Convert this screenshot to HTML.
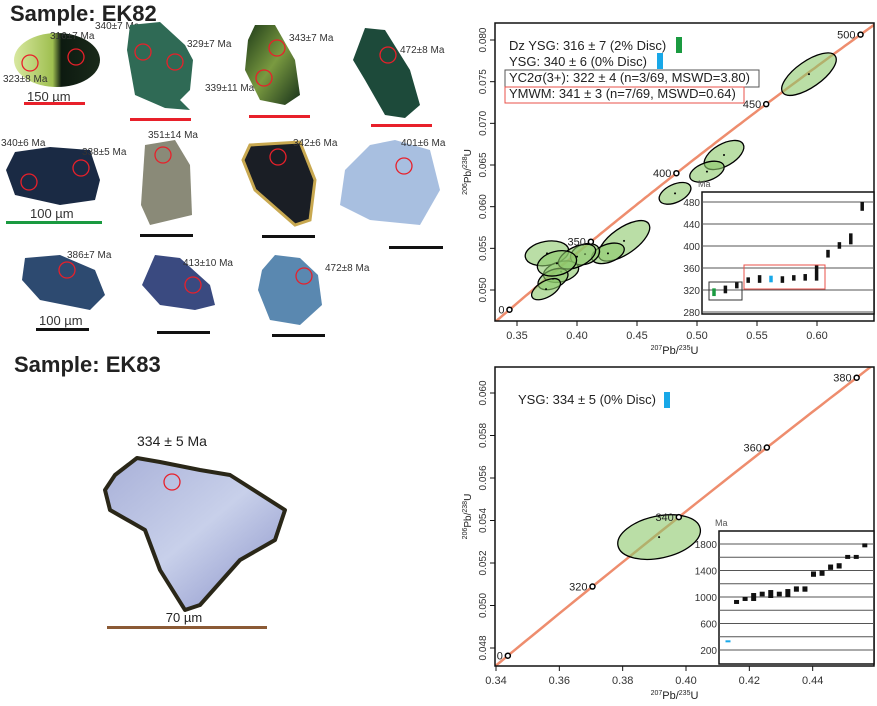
<!DOCTYPE html>
<html><head><meta charset="utf-8"><style>
body{margin:0;background:#fff}
svg{display:block;font-family:"Liberation Sans",Arial,sans-serif}
</style></head><body>
<svg id="fig" width="877" height="706" viewBox="0 0 877 706" xmlns="http://www.w3.org/2000/svg">
<defs>
<linearGradient id="g1" x1="0" x2="1"><stop offset="0" stop-color="#d8e8a0"/><stop offset="0.45" stop-color="#9fbf50"/><stop offset="0.55" stop-color="#0d1a10"/><stop offset="1" stop-color="#1a2a1a"/></linearGradient>
<linearGradient id="g3" x1="0" x2="1" y1="0" y2="1"><stop offset="0" stop-color="#1d3a18"/><stop offset="0.5" stop-color="#7a9a40"/><stop offset="1" stop-color="#16301a"/></linearGradient>
<linearGradient id="g83" x1="0" x2="1" y1="0" y2="1"><stop offset="0" stop-color="#a8b0d8"/><stop offset="0.5" stop-color="#c8d0ea"/><stop offset="1" stop-color="#8890c8"/></linearGradient>
</defs>
<g>
<text x="10" y="21" font-size="22" font-weight="bold" fill="#222">Sample: EK82</text>
<g font-size="10" fill="#333">
<ellipse cx="57" cy="60" rx="43" ry="27" fill="url(#g1)"/>
<text x="50" y="39">316±7 Ma</text>
<text x="95" y="29">340±7 Ma</text>
<text x="3" y="82">323±8 Ma</text>
<text x="27" y="101" font-size="13">150 µm</text>
<rect x="24" y="102" width="61" height="3" fill="#e8202a"/>
<polygon points="130,25 160,22 185,45 193,60 190,90 180,100 190,110 165,108 135,95 127,50" fill="#2f6a55"/>
<text x="187" y="47">329±7 Ma</text>
<rect x="130" y="118" width="61" height="3" fill="#e8202a"/>
<polygon points="255,25 275,25 295,60 300,95 285,105 260,100 245,70 248,40" fill="url(#g3)"/>
<text x="289" y="41">343±7 Ma</text>
<text x="205" y="91">339±11 Ma</text>
<rect x="249" y="115" width="61" height="3" fill="#e8202a"/>
<polygon points="365,28 385,30 410,70 420,105 405,118 385,115 365,80 353,60" fill="#1d4a3a"/>
<text x="400" y="53">472±8 Ma</text>
<rect x="371" y="124" width="61" height="3" fill="#e8202a"/>
<polygon points="15,152 50,147 90,150 100,180 95,200 60,205 15,195 6,170" fill="#1a2a44"/>
<text x="1" y="146">340±6 Ma</text>
<text x="82" y="155">338±5 Ma</text>
<text x="30" y="218" font-size="13">100 µm</text>
<rect x="6" y="221" width="96" height="3" fill="#1a9a40"/>
<polygon points="145,145 175,140 190,165 192,215 150,225 141,205" fill="#8a8a78"/>
<text x="148" y="138">351±14 Ma</text>
<rect x="140" y="234" width="53" height="3" fill="#111"/>
<polygon points="250,145 300,142 315,180 310,220 295,225 255,190 243,160" fill="#1a1e25" stroke="#c8a850" stroke-width="3"/>
<text x="293" y="146">342±6 Ma</text>
<rect x="262" y="235" width="53" height="3" fill="#111"/>
<polygon points="370,145 395,140 430,150 440,190 420,225 370,220 340,205 345,170" fill="#a8bfe0"/>
<text x="401" y="146">401±6 Ma</text>
<rect x="389" y="246" width="54" height="3" fill="#111"/>
<polygon points="25,258 60,255 95,270 105,295 90,310 40,300 22,280" fill="#2d4a70"/>
<text x="67" y="258">386±7 Ma</text>
<text x="39" y="325" font-size="13">100 µm</text>
<rect x="36" y="328" width="53" height="3" fill="#111"/>
<polygon points="155,255 180,258 210,285 215,305 195,310 160,305 142,285" fill="#3a4a80"/>
<text x="183" y="266">413±10 Ma</text>
<rect x="157" y="331" width="53" height="3" fill="#111"/>
<polygon points="275,255 300,258 318,275 322,305 300,325 270,320 258,290 262,270" fill="#5a88b0"/>
<text x="325" y="271">472±8 Ma</text>
<rect x="272" y="334" width="53" height="3" fill="#111"/>
<g fill="none" stroke="#e8202a" stroke-width="1.3">
<circle cx="30" cy="63" r="8"/><circle cx="76" cy="57" r="8"/><circle cx="143" cy="52" r="8"/><circle cx="175" cy="62" r="8"/>
<circle cx="277" cy="48" r="8"/><circle cx="264" cy="78" r="8"/><circle cx="388" cy="55" r="8"/><circle cx="29" cy="182" r="8"/>
<circle cx="81" cy="168" r="8"/><circle cx="163" cy="155" r="8"/><circle cx="278" cy="157" r="8"/><circle cx="404" cy="166" r="8"/>
<circle cx="67" cy="270" r="8"/><circle cx="193" cy="285" r="8"/><circle cx="304" cy="276" r="8"/>
</g>
</g>
</g>
<g>
<text x="14" y="372" font-size="22" font-weight="bold" fill="#222">Sample: EK83</text>
<text x="172" y="446" font-size="14" text-anchor="middle" fill="#222">334 ± 5 Ma</text>
<polygon points="137,458 160,462 200,470 230,475 285,510 275,540 240,560 200,605 185,610 160,570 145,530 110,510 105,490 115,475" fill="url(#g83)" stroke="#2a2718" stroke-width="4" stroke-linejoin="round"/>
<circle cx="172" cy="482" r="8" fill="none" stroke="#e8202a" stroke-width="1.3"/>
<text x="184" y="622" font-size="13" text-anchor="middle" fill="#222">70 µm</text>
<rect x="107" y="626" width="160" height="3" fill="#8b5a35"/>
</g>
<g id="c1"></g>
<g id="c2"></g>
</svg>
<script>
// ---- data ----
var ek82X = [0.5933,0.5225,0.5083,0.4817,0.4392,0.4258,0.4067,0.375,0.3867,0.38,0.3742,0.40,0.3833];
var ek82Y = [0.0759,0.0662,0.0642,0.0616,0.0559,0.0544,0.0543,0.0544,0.0522,0.0513,0.0501,0.054,0.0532];
var ek82Rx = [32,22,18,17,30,17,15,22,18,16,16,20,20];
var ek82Ry = [13,11,9,9,13,9,10,12,10,9,8,10,12];
var ek82Rot = [-35,-30,-20,-25,-35,-20,-20,-10,-15,-25,-30,-25,-15];
var ek82Ages = [316,321,329,338,340,340,339,342,343,351,386,401,413,472];
var ek82Errs = [7,7,6,5,7,6,6,5,6,14,7,6,10,8];
var ek82Colors = ['#1a9a40','k','k','k','k','#18a8e8','k','k','k','k','k','k','k','k'];
var ek83X = [0.3915];
var ek83Y = [0.05322];
var ek83Rx=[42], ek83Ry=[21], ek83Rot=[-12];
var ek83Ages = [334,925,970,1000,1045,1045,1045,1060,1120,1120,1345,1360,1450,1470,1605,1605,1780];
var ek83Errs = [12,30,30,60,35,60,35,60,40,40,40,40,40,40,30,30,30];
var ek83Colors = ['#18a8e8','k','k','k','k','k','k','k','k','k','k','k','k','k','k','k','k'];
var ek82XTicks=[0.35,0.40,0.45,0.50,0.55,0.60];
var ek82YTicks=[0.050,0.055,0.060,0.065,0.070,0.075,0.080];
var ek83XTicks=[0.34,0.36,0.38,0.40,0.42,0.44];
var ek83YTicks=[0.048,0.050,0.052,0.054,0.056,0.058,0.060];
var ek82AgeMarks=[300,350,400,450,500];
var ek82AgeLabels=['0','350','400','450','500'];
var ek83AgeMarks=[300,320,340,360,380];
var ek83AgeLabels=['0','320','340','360','380'];
var ek82InsetTicks=[480,440,400,360,320,280];
var ek83InsetGrid=[1800,1600,1400,1200,1000,800,600,400,200];
var ek83InsetTicks=[1800,1400,1000,600,200];

var NS='http://www.w3.org/2000/svg';
function mk(p,tag,a){var e=document.createElementNS(NS,tag);for(var k in a)e.setAttribute(k,a[k]);p.appendChild(e);return e;}
function r206(t){return Math.exp(1.55125e-4*t)-1;}
function r207(t){return Math.exp(9.8485e-4*t)-1;}

function chart(g,o){
  var X=function(v){return o.x0+(v-o.xv0)*o.xs;}, Y=function(v){return o.y0-(v-o.yv0)*o.ys;};
  var clip=mk(g,'clipPath',{id:o.id+'clip'});mk(clip,'rect',{x:o.L,y:o.T,width:o.R-o.L,height:o.B-o.T});
  var pts=[];for(var t=o.t0;t<=o.t1;t+=2)pts.push(X(r207(t)).toFixed(1)+','+Y(r206(t)).toFixed(1));
  var cl=mk(g,'polyline',{points:pts.join(' '),fill:'none',stroke:'#ee8d6e','stroke-width':2.5,'clip-path':'url(#'+o.id+'clip)'});
  
  for(var i=0;i<o.ex.length;i++){
    var cx=X(o.ex[i]),cy=Y(o.ey[i]);
    var el=mk(g,'ellipse',{cx:cx,cy:cy,rx:o.erx[i],ry:o.ery[i],transform:'rotate('+o.erot[i]+' '+cx+' '+cy+')',fill:'#8cc86a','fill-opacity':0.6,stroke:'#000','stroke-width':1.3});
    
    mk(g,'circle',{cx:cx,cy:cy,r:1,fill:'#000'});
  }
  for(i=0;i<o.am.length;i++){
    var t=o.am[i],px=X(r207(t)),py=Y(r206(t));
    var c=mk(g,'circle',{cx:px,cy:py,r:2.5,fill:'#fff',stroke:'#000','stroke-width':1.5});
    
    var tx=mk(g,'text',{x:px-5,y:py+4,'font-size':11,'text-anchor':'end',fill:'#222'});tx.textContent=o.al[i];
    
  }
  var box=mk(g,'rect',{x:o.L,y:o.T,width:o.R-o.L,height:o.B-o.T,fill:'none',stroke:'#111','stroke-width':1.5});
  
  o.xt.forEach(function(v){var x=X(v);mk(g,'line',{x1:x,x2:x,y1:o.B,y2:o.B+5,stroke:'#111'});
    var t=mk(g,'text',{x:x,y:o.B+18,'font-size':11,'text-anchor':'middle',fill:'#333'});t.textContent=v.toFixed(2);
    });
  o.yt.forEach(function(v){var y=Y(v);mk(g,'line',{x1:o.L-5,x2:o.L,y1:y,y2:y,stroke:'#111'});
    var t=mk(g,'text',{x:o.L-9,y:y,'font-size':10,'text-anchor':'middle',fill:'#333',transform:'rotate(-90 '+(o.L-9)+' '+y+')'});t.textContent=v.toFixed(3);
    });
  var xt=mk(g,'text',{x:(o.L+o.R)/2-10,y:o.B+33,'font-size':11,'text-anchor':'middle',fill:'#222'});
  xt.innerHTML='<tspan font-size="7" dy="-4">207</tspan><tspan dy="4">Pb/</tspan><tspan font-size="7" dy="-4">235</tspan><tspan dy="4">U</tspan>';
  
  var ym=(o.T+o.B)/2;
  var yt=mk(g,'text',{x:o.L-24,y:ym,'font-size':10,'text-anchor':'middle',fill:'#222',transform:'rotate(-90 '+(o.L-24)+' '+ym+')'});
  yt.innerHTML='<tspan font-size="7" dy="-4">206</tspan><tspan dy="4">Pb/</tspan><tspan font-size="7" dy="-4">238</tspan><tspan dy="4">U</tspan>';
  
  var I=o.ins;var ig=mk(g,'g',{});
  mk(ig,'rect',{x:I.L,y:I.T,width:I.R-I.L,height:I.B-I.T,fill:'#fff',stroke:'#111','stroke-width':1.5});
  var IY=function(a){return I.y0+(I.a0-a)*I.s;};
  I.grid.forEach(function(a){var y=IY(a);if(y>I.T+1&&y<I.B-1)mk(ig,'line',{x1:I.L,x2:I.R,y1:y,y2:y,stroke:'#555','stroke-width':1});});
  I.ticks.forEach(function(a){var t=mk(ig,'text',{x:I.L-2,y:IY(a)+4,'font-size':10,'text-anchor':'end',fill:'#333'});t.textContent=a;
    });
  var ma=mk(ig,'text',{x:I.L-4,y:I.T-5,'font-size':9,fill:'#555'});ma.textContent='Ma';
  
  for(i=0;i<I.ages.length;i++){
    var x=I.x0+i*I.dx,y1=IY(I.ages[i]+I.errs[i]),y2=IY(I.ages[i]-I.errs[i]);
    var b=mk(ig,'rect',{x:x-I.w/2,y:y1,width:I.w,height:Math.max(2,y2-y1),fill:I.cols[i]=='k'?'#111':I.cols[i]});
    
  }
  return ig;
}
var g1=document.getElementById('c1');
var ig1=chart(g1,{id:'a',L:495,R:874,T:23,B:321,x0:517,xv0:0.35,xs:1200,y0:290,yv0:0.05,ys:8333,t0:280,t1:510,
 ex:ek82X,ey:ek82Y,erx:ek82Rx,ery:ek82Ry,erot:ek82Rot,am:ek82AgeMarks,al:ek82AgeLabels,xt:ek82XTicks,yt:ek82YTicks,
 ins:{L:702,R:874,T:192,B:314,y0:202,a0:480,s:0.55,grid:ek82InsetTicks,ticks:ek82InsetTicks,ages:ek82Ages,errs:ek82Errs,cols:ek82Colors,x0:714,dx:11.4,w:3.5}});
mk(ig1,'rect',{x:709,y:282,width:33,height:18,fill:'none',stroke:'#333'});
mk(ig1,'rect',{x:744,y:265,width:81,height:24,fill:'none',stroke:'#e8504a'});
var lg=[['Dz YSG: 316 ± 7 (2% Disc)',50],['YSG: 340 ± 6 (0% Disc)',66],['YC2σ(3+): 322 ± 4 (n=3/69, MSWD=3.80)',82],['YMWM: 341 ± 3 (n=7/69, MSWD=0.64)',98]];
mk(g1,'rect',{x:505,y:70,width:254,height:17,fill:'#fff',stroke:'#555'});
mk(g1,'rect',{x:505,y:87,width:239,height:16,fill:'none',stroke:'#e8504a'});
lg.forEach(function(l){var t=mk(g1,'text',{x:509,y:l[1],'font-size':13,fill:'#222'});t.textContent=l[0];
 });
mk(g1,'rect',{x:676,y:37,width:6,height:16,fill:'#1a9a40'});
mk(g1,'rect',{x:657,y:53,width:6,height:16,fill:'#18a8e8'});

var g2=document.getElementById('c2');
chart(g2,{id:'b',L:495,R:874,T:367,B:666,x0:496,xv0:0.34,xs:3166.7,y0:393,yv0:0.060,ys:21250,t0:290,t1:390,
 ex:ek83X,ey:ek83Y,erx:ek83Rx,ery:ek83Ry,erot:ek83Rot,am:ek83AgeMarks,al:ek83AgeLabels,xt:ek83XTicks,yt:ek83YTicks,
 ins:{L:719,R:874,T:531,B:664,y0:544,a0:1800,s:0.06625,grid:ek83InsetGrid,ticks:ek83InsetTicks,ages:ek83Ages,errs:ek83Errs,cols:ek83Colors,x0:728,dx:8.55,w:5}});
var t2=mk(g2,'text',{x:518,y:404,'font-size':13,fill:'#222'});t2.textContent='YSG: 334 ± 5 (0% Disc)';

mk(g2,'rect',{x:664,y:392,width:6,height:16,fill:'#18a8e8'});
</script>
</body></html>
